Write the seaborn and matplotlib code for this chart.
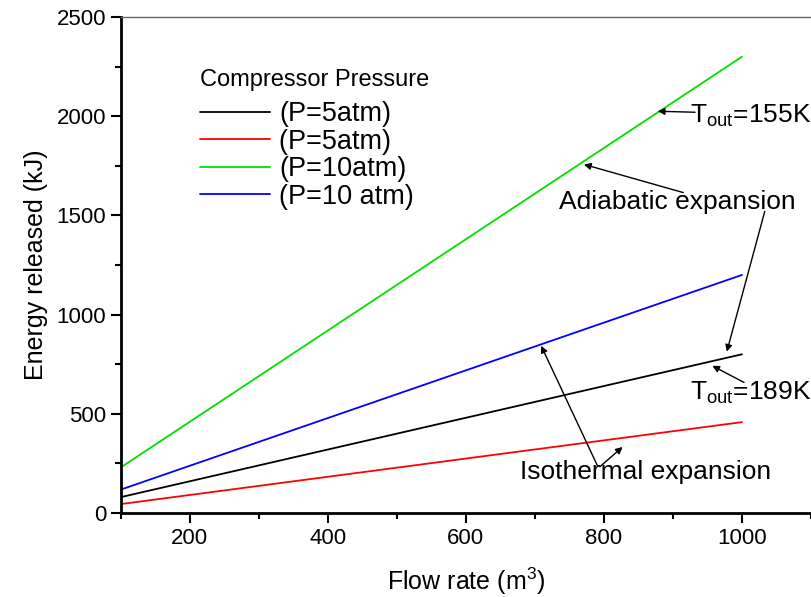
import pandas as pd
import numpy as np
import matplotlib
matplotlib.use("Agg")
import matplotlib.pyplot as plt
import seaborn as sns
from matplotlib.ticker import MultipleLocator

# flow rate (m3) and energy released (kJ) for each case
flow = [100, 1000]
iso_5 = [80, 800]        # black
adi_5 = [45, 458]        # red
iso_10 = [230, 2300]     # green
adi_10 = [118, 1200]     # blue
labels = ["(P=5atm)", "(P=5atm) ", "(P=10atm)", "(P=10 atm)"]
colors = ["black", "red", "#00e000", "blue"]

rows = []
for lab, vals in zip(labels, [iso_5, adi_5, iso_10, adi_10]):
    for f, v in zip(flow, vals):
        rows.append({"Flow": f, "Energy": v, "Case": lab})
df = pd.DataFrame(rows)

sns.set_style("ticks")
plt.rcParams["font.family"] = ["Liberation Sans", "DejaVu Sans"]
plt.rcParams["text.color"] = "black"
plt.rcParams["axes.labelcolor"] = "black"
plt.rcParams["xtick.color"] = "black"
plt.rcParams["ytick.color"] = "black"
plt.rcParams["mathtext.fontset"] = "custom"
plt.rcParams["mathtext.rm"] = "Liberation Sans"

fig = plt.figure(figsize=(8.11, 5.97), dpi=100)
ax = fig.add_axes([0.149, 0.1407, 0.851, 0.8308])

sns.lineplot(data=df, x="Flow", y="Energy", hue="Case", palette=colors,
             hue_order=labels, linewidth=1.3, ax=ax)

ax.set_xlim(100, 1100)
ax.set_ylim(0, 2500)
ax.xaxis.set_major_locator(MultipleLocator(200))
ax.xaxis.set_minor_locator(MultipleLocator(100))
ax.yaxis.set_major_locator(MultipleLocator(500))
ax.yaxis.set_minor_locator(MultipleLocator(250))
ax.set_xticks([200, 400, 600, 800, 1000])
ax.tick_params(which="major", direction="out", length=7, width=1.5, labelsize=16)
ax.tick_params(which="minor", direction="out", length=4, width=1.5)
for s in ["left", "bottom"]:
    ax.spines[s].set_linewidth(2)
    ax.spines[s].set_color("black")
ax.spines["top"].set_linewidth(1)
ax.spines["top"].set_color("#666666")
ax.spines["right"].set_visible(False)

ax.set_xlabel("Flow rate (m$^{3}$)", fontsize=18, labelpad=12)
ax.set_ylabel("Energy released (kJ)", fontsize=18, labelpad=6)

# legend entries, title drawn separately to get the wider gap
leg = ax.legend(loc="upper left", bbox_to_anchor=(0.0945, 0.857),
                frameon=False, fontsize=19.5, handlelength=2.6,
                handletextpad=0.33, labelspacing=0.05, borderpad=0)
for h in leg.get_lines():
    h.set_linewidth(1.3)
ax.text(0.114, 0.873, "Compressor Pressure", transform=ax.transAxes,
        fontsize=17, va="center", ha="left")

arrow = dict(arrowstyle="-|>", color="black", lw=1, mutation_scale=10,
             shrinkA=0, shrinkB=0)
fs = 19
ax.annotate("", xy=(878, 2025), xytext=(932, 2020), arrowprops=arrow)
ax.text(925, 2000, "T$_{\\mathrm{out}}$=155K", fontsize=fs, va="center", ha="left")

ax.text(907, 1570, "Adiabatic expansion", fontsize=fs, va="center", ha="center")
ax.annotate("", xy=(771, 1757), xytext=(915, 1615), arrowprops=arrow)
ax.annotate("", xy=(978, 813), xytext=(1033, 1520), arrowprops=arrow)

ax.annotate("", xy=(957, 742), xytext=(1003, 658), arrowprops=arrow)
ax.text(925, 605, "T$_{\\mathrm{out}}$=189K", fontsize=fs, va="center", ha="left")

ax.text(861, 207, "Isothermal expansion", fontsize=fs, va="center", ha="center")
ax.annotate("", xy=(709, 843), xytext=(791, 235), arrowprops=arrow)
ax.annotate("", xy=(827, 333), xytext=(794, 233), arrowprops=arrow)

fig.savefig("out.png", dpi=100)
